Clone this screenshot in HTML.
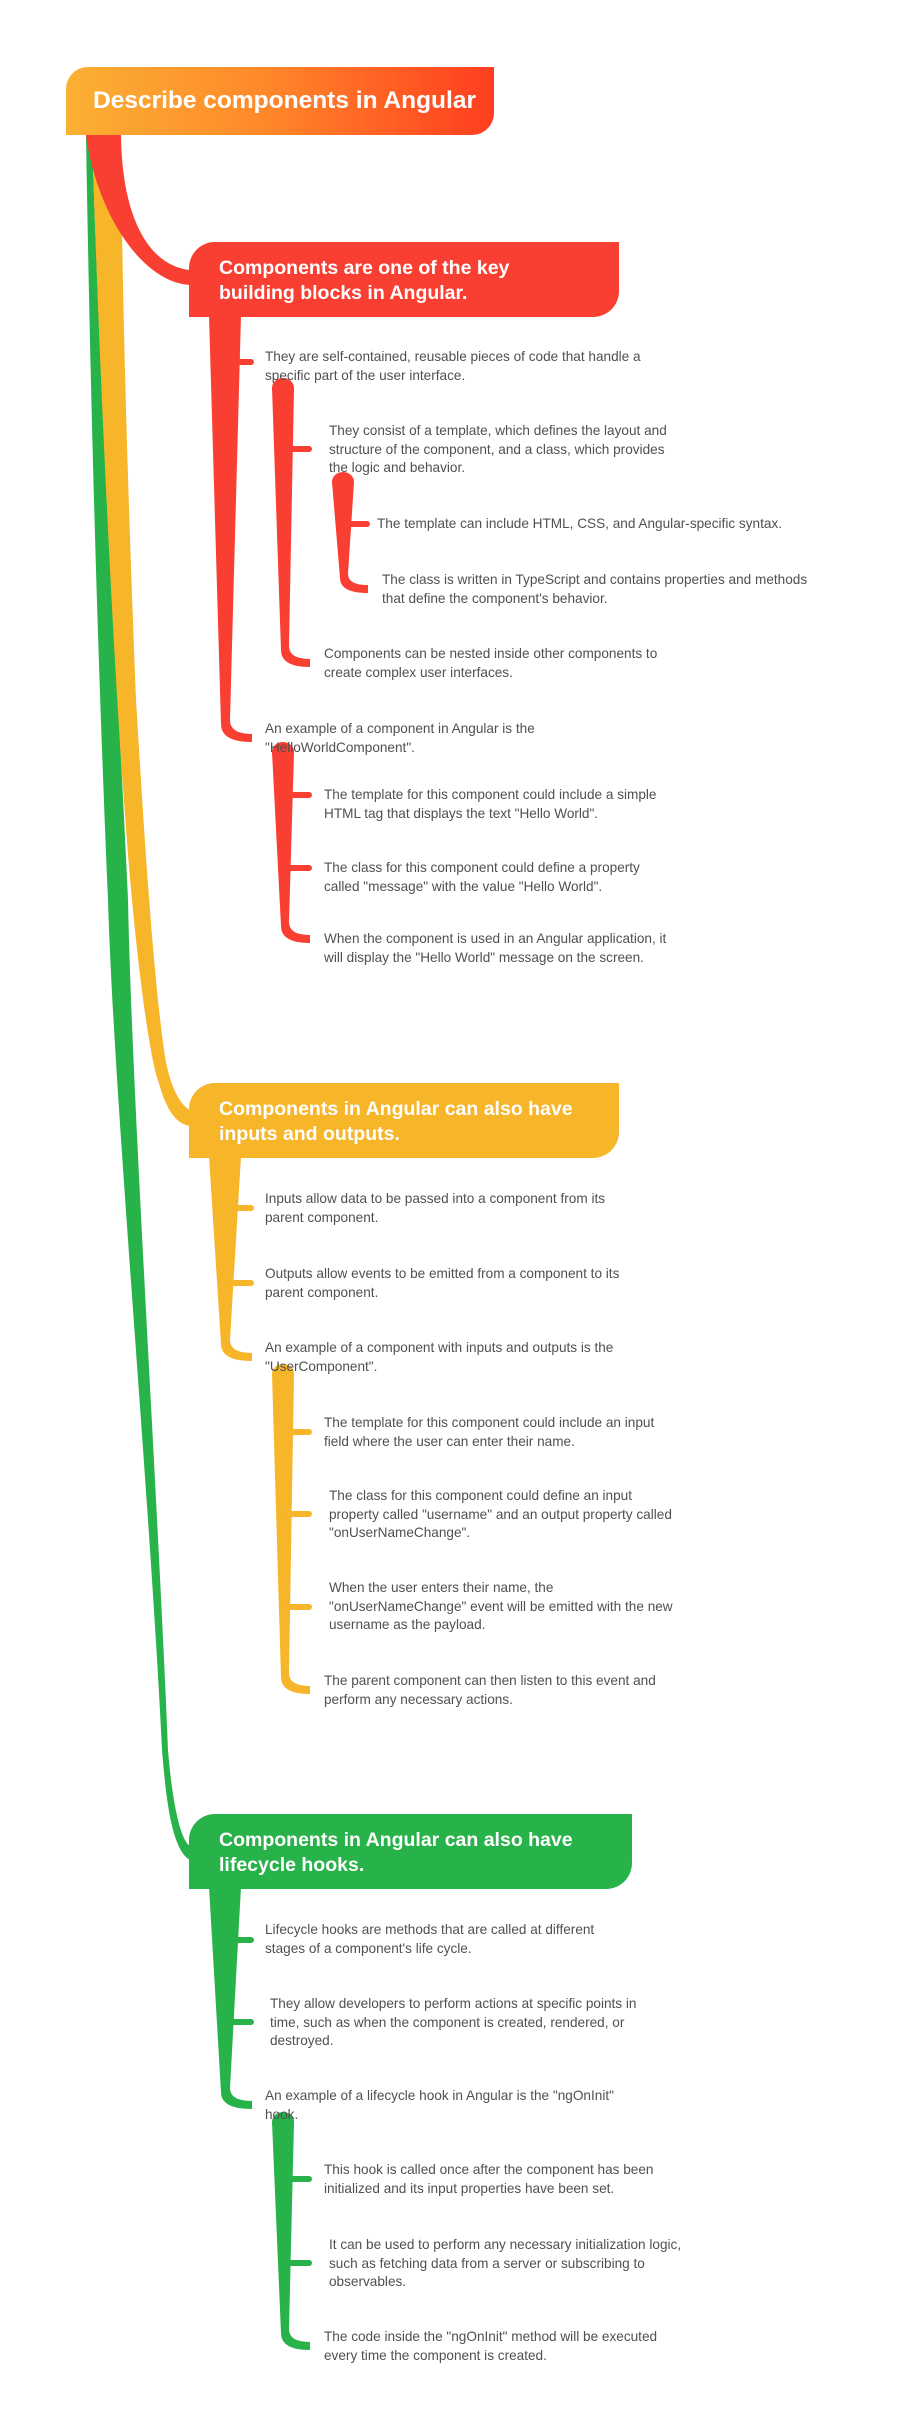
<!DOCTYPE html>
<html><head><meta charset="utf-8">
<style>
html,body{margin:0;padding:0;background:#fff;}
body{width:912px;height:2424px;position:relative;overflow:hidden;font-family:"Liberation Sans",sans-serif;}
svg{position:absolute;left:0;top:0;}
.box{position:absolute;color:#fff;font-weight:bold;box-sizing:border-box;}
.t{position:absolute;font-size:13.6px;line-height:18.5px;color:#505050;white-space:nowrap;}
</style></head><body>
<svg width="912" height="2424" viewBox="0 0 912 2424">
  <path d="M86,135 C92,500 102,760 108,900 C114,1100 150,1500 162,1750 C166,1800 172,1850 190,1860 L190,1846 C180,1840 172,1800 168,1750 C158,1500 132,1100 128,900 C122,760 100,400 92,135 Z" fill="#27b24a"/>
  <path d="M92,135 C100,400 116,700 124,800 C134,950 150,1060 158,1080 C166,1110 176,1124 190,1126 L190,1110 C178,1104 168,1080 164,1050 C150,950 140,760 136,700 C128,500 122,300 121,135 Z" fill="#f7b52a"/>
  <path d="M86,135 C96,210 140,282 190,285 L190,270 C150,266 122,220 121,135 Z" fill="#f93e32"/>

  <path d="M209,315 L221,724 Q221,742 252,742 L252,734 Q230,734 230,720 L241,315 Z" fill="#f93e32"/>
  <line x1="236" y1="362" x2="251" y2="362" stroke="#f93e32" stroke-width="6" stroke-linecap="round"/>
  <ellipse cx="283" cy="388" rx="11" ry="10" fill="#f93e32"/>
  <path d="M272,388 L281,650 Q281,667 310,667 L310,659 Q289,659 289,646 L294,388 Z" fill="#f93e32"/>
  <line x1="290" y1="449" x2="309" y2="449" stroke="#f93e32" stroke-width="6" stroke-linecap="round"/>
  <ellipse cx="343" cy="482" rx="11" ry="10" fill="#f93e32"/>
  <path d="M332,482 L340,578 Q340,593 368,593 L368,585 Q348,585 348,574 L354,482 Z" fill="#f93e32"/>
  <line x1="350" y1="524" x2="367" y2="524" stroke="#f93e32" stroke-width="6" stroke-linecap="round"/>
  <ellipse cx="283" cy="752" rx="11" ry="10" fill="#f93e32"/>
  <path d="M272,752 L281,926 Q281,943 310,943 L310,935 Q289,935 289,922 L294,752 Z" fill="#f93e32"/>
  <line x1="290" y1="795" x2="309" y2="795" stroke="#f93e32" stroke-width="6" stroke-linecap="round"/>
  <line x1="289" y1="868" x2="309" y2="868" stroke="#f93e32" stroke-width="6" stroke-linecap="round"/>

  <path d="M209,1156 L221,1344 Q221,1361 252,1361 L252,1353 Q230,1353 230,1340 L241,1156 Z" fill="#f7b52a"/>
  <line x1="236" y1="1208" x2="251" y2="1208" stroke="#f7b52a" stroke-width="6" stroke-linecap="round"/>
  <line x1="234" y1="1283" x2="251" y2="1283" stroke="#f7b52a" stroke-width="6" stroke-linecap="round"/>
  <ellipse cx="283" cy="1374" rx="11" ry="10" fill="#f7b52a"/>
  <path d="M272,1374 L281,1677 Q281,1694 310,1694 L310,1686 Q289,1686 289,1673 L294,1374 Z" fill="#f7b52a"/>
  <line x1="291" y1="1432" x2="309" y2="1432" stroke="#f7b52a" stroke-width="6" stroke-linecap="round"/>
  <line x1="290" y1="1514" x2="309" y2="1514" stroke="#f7b52a" stroke-width="6" stroke-linecap="round"/>
  <line x1="289" y1="1607" x2="309" y2="1607" stroke="#f7b52a" stroke-width="6" stroke-linecap="round"/>

  <path d="M209,1887 L221,2092 Q221,2109 252,2109 L252,2101 Q230,2101 230,2088 L241,1887 Z" fill="#27b24a"/>
  <line x1="236" y1="1940" x2="251" y2="1940" stroke="#27b24a" stroke-width="6" stroke-linecap="round"/>
  <line x1="234" y1="2022" x2="251" y2="2022" stroke="#27b24a" stroke-width="6" stroke-linecap="round"/>
  <ellipse cx="283" cy="2122" rx="11" ry="10" fill="#27b24a"/>
  <path d="M272,2122 L281,2333 Q281,2350 310,2350 L310,2342 Q289,2342 289,2329 L294,2122 Z" fill="#27b24a"/>
  <line x1="291" y1="2179" x2="309" y2="2179" stroke="#27b24a" stroke-width="6" stroke-linecap="round"/>
  <line x1="290" y1="2263" x2="309" y2="2263" stroke="#27b24a" stroke-width="6" stroke-linecap="round"/>
</svg>

<div class="box" style="left:66px;top:67px;width:428px;height:68px;border-radius:22px 0 22px 0;background:linear-gradient(90deg,#fbb034,#ff8a2a 45%,#ff3d1f);font-size:24.5px;line-height:68px;padding-left:27px;white-space:nowrap;">Describe components in Angular</div>

<div class="box" style="left:189px;top:242px;width:430px;height:75px;border-radius:26px 0 26px 0;background:#f93e32;font-size:19.5px;line-height:25px;padding:14px 0 0 30px;white-space:nowrap;">Components are one of the key<br>building blocks in Angular.</div>

<div class="box" style="left:189px;top:1083px;width:430px;height:75px;border-radius:26px 0 26px 0;background:#f7b52a;font-size:19.5px;line-height:25px;padding:14px 0 0 30px;white-space:nowrap;">Components in Angular can also have<br>inputs and outputs.</div>

<div class="box" style="left:189px;top:1814px;width:443px;height:75px;border-radius:26px 0 26px 0;background:#27b24a;font-size:19.5px;line-height:25px;padding:14px 0 0 30px;white-space:nowrap;">Components in Angular can also have<br>lifecycle hooks.</div>

<div class="t" style="left:265px;top:348px;">They are self-contained, reusable pieces of code that handle a<br>specific part of the user interface.</div>
<div class="t" style="left:329px;top:422px;">They consist of a template, which defines the layout and<br>structure of the component, and a class, which provides<br>the logic and behavior.</div>
<div class="t" style="left:377px;top:515px;">The template can include HTML, CSS, and Angular-specific syntax.</div>
<div class="t" style="left:382px;top:571px;">The class is written in TypeScript and contains properties and methods<br>that define the component's behavior.</div>
<div class="t" style="left:324px;top:645px;">Components can be nested inside other components to<br>create complex user interfaces.</div>
<div class="t" style="left:265px;top:720px;">An example of a component in Angular is the<br>"HelloWorldComponent".</div>
<div class="t" style="left:324px;top:786px;">The template for this component could include a simple<br>HTML tag that displays the text "Hello World".</div>
<div class="t" style="left:324px;top:859px;">The class for this component could define a property<br>called "message" with the value "Hello World".</div>
<div class="t" style="left:324px;top:930px;">When the component is used in an Angular application, it<br>will display the "Hello World" message on the screen.</div>

<div class="t" style="left:265px;top:1190px;">Inputs allow data to be passed into a component from its<br>parent component.</div>
<div class="t" style="left:265px;top:1265px;">Outputs allow events to be emitted from a component to its<br>parent component.</div>
<div class="t" style="left:265px;top:1339px;">An example of a component with inputs and outputs is the<br>"UserComponent".</div>
<div class="t" style="left:324px;top:1414px;">The template for this component could include an input<br>field where the user can enter their name.</div>
<div class="t" style="left:329px;top:1487px;">The class for this component could define an input<br>property called "username" and an output property called<br>"onUserNameChange".</div>
<div class="t" style="left:329px;top:1579px;">When the user enters their name, the<br>"onUserNameChange" event will be emitted with the new<br>username as the payload.</div>
<div class="t" style="left:324px;top:1672px;">The parent component can then listen to this event and<br>perform any necessary actions.</div>

<div class="t" style="left:265px;top:1921px;">Lifecycle hooks are methods that are called at different<br>stages of a component's life cycle.</div>
<div class="t" style="left:270px;top:1995px;">They allow developers to perform actions at specific points in<br>time, such as when the component is created, rendered, or<br>destroyed.</div>
<div class="t" style="left:265px;top:2087px;">An example of a lifecycle hook in Angular is the "ngOnInit"<br>hook.</div>
<div class="t" style="left:324px;top:2161px;">This hook is called once after the component has been<br>initialized and its input properties have been set.</div>
<div class="t" style="left:329px;top:2236px;">It can be used to perform any necessary initialization logic,<br>such as fetching data from a server or subscribing to<br>observables.</div>
<div class="t" style="left:324px;top:2328px;">The code inside the "ngOnInit" method will be executed<br>every time the component is created.</div>
</body></html>
